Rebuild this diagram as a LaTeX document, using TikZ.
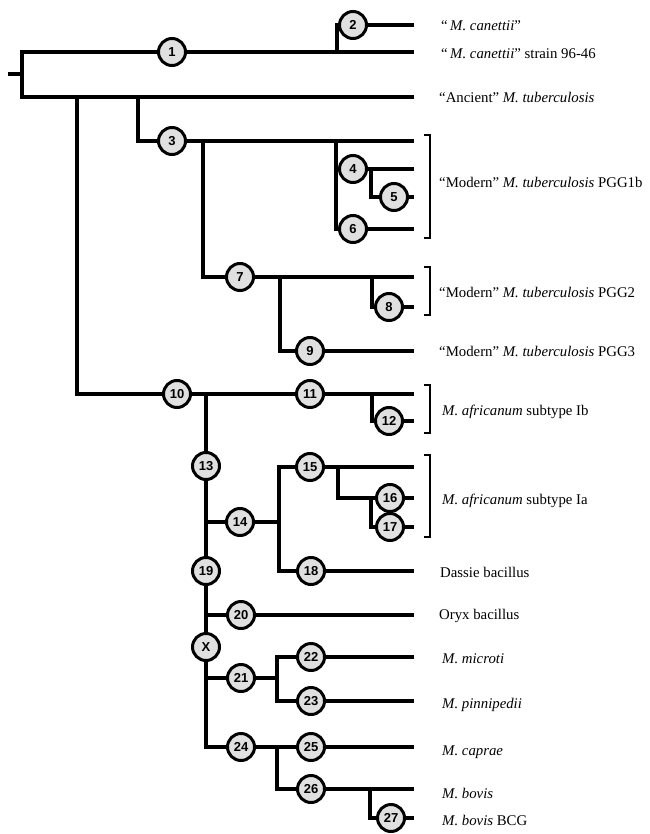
\documentclass[tikz,border=0pt]{standalone}
\usepackage{fontspec}
\setmainfont{Liberation Serif}
\newfontfamily\numfont{Liberation Sans}
\definecolor{nodegray}{RGB}{224,224,224}
\tikzset{
  num/.style={circle, draw=black, line width=3pt, fill=nodegray, minimum size=27pt, inner sep=0pt,
    font=\numfont\bfseries\fontsize{13}{13}\selectfont},
  lab/.style={anchor=base west, inner sep=0pt, font=\fontsize{14.8}{16}\selectfont},
  edge/.style={line width=3.2pt},
  brk/.style={line width=2.6pt}
}
\begin{document}
\begin{tikzpicture}[x=1pt,y=-1pt]
\useasboundingbox (0,0) rectangle (649,834);
% junction coordinates
\coordinate (r0) at (8,74);  \coordinate (r1) at (22,74);
\coordinate (a) at (22,52);  \coordinate (b) at (22,97);
\coordinate (c2) at (337,52);
\coordinate (c10) at (77,97); \coordinate (c10b) at (77,394);
\coordinate (c3) at (138,97);
\coordinate (c7) at (203,141);
\coordinate (c4) at (336,141);
\coordinate (c5) at (371,169);
\coordinate (c9) at (280,277);
\coordinate (c8) at (372,277);
\coordinate (c12) at (372,394);
\coordinate (c13) at (206,394);
\coordinate (c14) at (206,522);
\coordinate (c15) at (279,522);
\coordinate (c16) at (338,467);
\coordinate (c17) at (371,498);
\coordinate (c20) at (206,615);
\coordinate (c21) at (206,678);
\coordinate (c22) at (277,678);
\coordinate (c24) at (206,747);
\coordinate (c26) at (277,747);
\coordinate (c27) at (370,790);
% leaf ends
\coordinate (e1) at (414,52);   \coordinate (e2) at (414,25);
\coordinate (ea) at (414,97);   \coordinate (e3) at (414,141);
\coordinate (e4) at (414,169);  \coordinate (e5) at (414,197);
\coordinate (e6) at (414,229);  \coordinate (e7) at (414,277);
\coordinate (e8) at (414,307);  \coordinate (e9) at (414,351);
\coordinate (e11) at (414,394); \coordinate (e12) at (414,421);
\coordinate (e15) at (414,467); \coordinate (e16) at (414,498);
\coordinate (e17) at (414,527); \coordinate (e18) at (414,571);
\coordinate (e20) at (414,615); \coordinate (e22) at (414,657);
\coordinate (e23) at (414,701); \coordinate (e25) at (414,747);
\coordinate (e26) at (414,789); \coordinate (e27) at (414,818);
% numbered nodes
\node[num] (n1) at (172,52) {1};
\node[num] (n2) at (353,25) {2};
\node[num] (n3) at (172,141) {3};
\node[num] (n4) at (353,169) {4};
\node[num] (n5) at (394,197) {5};
\node[num] (n6) at (353,229) {6};
\node[num] (n7) at (240,277) {7};
\node[num] (n8) at (389,307) {8};
\node[num] (n9) at (310,351) {9};
\node[num] (n10) at (177,394) {10};
\node[num] (n11) at (310,394) {11};
\node[num] (n12) at (389,421) {12};
\node[num] (n13) at (206,466) {13};
\node[num] (n14) at (240,522) {14};
\node[num] (n15) at (310,467) {15};
\node[num] (n16) at (390,498) {16};
\node[num] (n17) at (390,527) {17};
\node[num] (n18) at (311,571) {18};
\node[num] (n19) at (206,571) {19};
\node[num] (n20) at (241,615) {20};
\node[num] (nX) at (206,647) {X};
\node[num] (n21) at (241,678) {21};
\node[num] (n22) at (311,657) {22};
\node[num] (n23) at (311,701) {23};
\node[num] (n24) at (241,747) {24};
\node[num] (n25) at (311,747) {25};
\node[num] (n26) at (311,789) {26};
\node[num] (n27) at (391,818) {27};
% connectors
\begin{scope}[edge]
\draw (r0) -- (r1);
\draw (n1) -- (a) -- (b) -- (ea);
\draw (n1) -- (e1);
\draw (c2) |- (n2); \draw (n2) -- (e2);
\draw (c10) -- (c10b) -- (n10);
\draw (c3) |- (n3); \draw (n3) -- (e3);
\draw (c7) |- (n7); \draw (n7) -- (e7);
\draw (c4) |- (n4); \draw (c4) |- (n6);
\draw (n4) -- (e4); \draw (c5) |- (n5); \draw (n5) -- (e5);
\draw (n6) -- (e6);
\draw (c9) |- (n9); \draw (n9) -- (e9);
\draw (c8) |- (n8); \draw (n8) -- (e8);
\draw (n10) -- (n11); \draw (n11) -- (e11);
\draw (c12) |- (n12); \draw (n12) -- (e12);
\draw (c13) -- (n13); \draw (n13) -- (n19); \draw (n19) -- (nX);
\draw (nX) -- (c24) -- (n24);
\draw (c14) -- (n14); \draw (n14) -- (c15);
\draw (c15) |- (n15); \draw (c15) |- (n18);
\draw (n15) -- (e15);
\draw (c16) |- (n16); \draw (n16) -- (e16);
\draw (c17) |- (n17); \draw (n17) -- (e17);
\draw (n18) -- (e18);
\draw (c20) -- (n20); \draw (n20) -- (e20);
\draw (c21) -- (n21); \draw (n21) -- (c22);
\draw (c22) |- (n22); \draw (c22) |- (n23);
\draw (n22) -- (e22); \draw (n23) -- (e23);
\draw (n24) -- (n25); \draw (n25) -- (e25);
\draw (c26) |- (n26); \draw (n26) -- (e26);
\draw (c27) |- (n27); \draw (n27) -- (e27);
\end{scope}
% brackets
\begin{scope}[brk]
\draw (424,135) -- (430,135) -- (430,238) -- (424,238);
\draw (424,267) -- (430,267) -- (430,315) -- (424,315);
\draw (424,385) -- (430,385) -- (430,433) -- (424,433);
\draw (424,455) -- (430,455) -- (430,537) -- (424,537);
\end{scope}
% labels
\node[lab] (t2) at (441,31) {“\,\textit{M. canettii}”};
\node[lab] (t1) at (441,59) {“\,\textit{M. canettii}” strain 96-46};
\node[lab] (ta) at (439,103) {“Ancient” \textit{M. tuberculosis}};
\node[lab] (tp1) at (439,188) {“Modern” \textit{M. tuberculosis} PGG1b};
\node[lab] (tp2) at (439,297) {“Modern” \textit{M. tuberculosis} PGG2};
\node[lab] (tp3) at (439,356) {“Modern” \textit{M. tuberculosis} PGG3};
\node[lab] (tib) at (442,415) {\textit{M. africanum} subtype Ib};
\node[lab] (tia) at (442,504) {\textit{M. africanum} subtype Ia};
\node[lab] (td) at (440,577) {Dassie bacillus};
\node[lab] (to) at (439,619) {Oryx bacillus};
\node[lab] (tmi) at (442,663) {\textit{M. microti}};
\node[lab] (tpi) at (442,708) {\textit{M. pinnipedii}};
\node[lab] (tca) at (442,755) {\textit{M. caprae}};
\node[lab] (tbo) at (442,798) {\textit{M. bovis}};
\node[lab] (tbc) at (442,825) {\textit{M. bovis} BCG};
\end{tikzpicture}
\end{document}
